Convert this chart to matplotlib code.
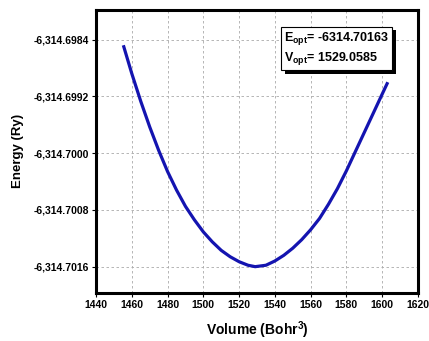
import matplotlib
matplotlib.use("Agg")
import matplotlib.pyplot as plt
import matplotlib.patheffects as pe
from matplotlib.ticker import FuncFormatter

plt.rcParams['font.family'] = ['Liberation Sans', 'DejaVu Sans']
plt.rcParams['mathtext.fontset'] = 'custom'
plt.rcParams['mathtext.rm'] = 'Liberation Sans'
plt.rcParams['mathtext.bf'] = 'Liberation Sans:bold'

# volume (Bohr^3) and energy (Ry)
volume = [1455.5, 1460, 1465, 1470, 1475, 1480, 1485, 1490, 1495, 1500,
          1505, 1510, 1515, 1520, 1525, 1529, 1535, 1540, 1545, 1550,
          1555, 1560, 1565, 1570, 1575, 1580, 1585, 1590, 1595, 1600, 1602.8]
energy = [-6314.69850, -6314.69888, -6314.69927, -6314.69963, -6314.69996,
          -6314.70026, -6314.70052, -6314.70075, -6314.70094, -6314.70111,
          -6314.70125, -6314.70137, -6314.70146, -6314.70153, -6314.70158,
          -6314.70160, -6314.70158, -6314.70152, -6314.70144, -6314.70134,
          -6314.70122, -6314.70108, -6314.70092, -6314.70072, -6314.70050,
          -6314.70025, -6314.69998, -6314.69971, -6314.69944, -6314.69917,
          -6314.69902]

xticks = [1440, 1460, 1480, 1500, 1520, 1540, 1560, 1580, 1600, 1620]
yticks = [-6314.6984, -6314.6992, -6314.7000, -6314.7008, -6314.7016]
e_opt = "-6314.70163"
v_opt = "1529.0585"

fig = plt.figure(figsize=(4.29, 3.41), dpi=100)
ax = fig.add_axes([0.224, 0.141, 0.750, 0.830])

ax.plot(volume, energy, color='#1414b0', lw=2.3, solid_joinstyle='round')

ax.set_xlim(1440, 1620)
ax.set_ylim(-6314.70197, -6314.69798)
ax.set_xticks(xticks)
ax.set_yticks(yticks)
ax.yaxis.set_major_formatter(FuncFormatter(lambda v, p: f"{v:,.4f}"))
ax.grid(True, ls=(0, (3, 3)), color='#aaaaaa', lw=0.6)
for s in ax.spines.values():
    s.set_linewidth(2.2)
ax.tick_params(direction='out', length=3, width=0.8, labelsize=7.5, pad=2)
for lab in ax.get_xticklabels() + ax.get_yticklabels():
    lab.set_fontweight('bold')

ax.set_xlabel(r"Volume (Bohr$^\mathbf{3}$)", fontsize=10, fontweight='bold', labelpad=7)
ax.set_ylabel("Energy (Ry)", fontsize=9.5, fontweight='bold', labelpad=7)

t = ax.text(0.585, 0.93,
            r"$\mathbf{E}_{\mathbf{opt}}$= " + e_opt + "\n" + r"$\mathbf{V}_{\mathbf{opt}}$= " + v_opt,
            transform=ax.transAxes, fontsize=9, fontweight='bold', va='top', ha='left',
            linespacing=1.3,
            bbox=dict(boxstyle='square,pad=0.25', fc='white', ec='black', lw=0.8))
t.get_bbox_patch().set_path_effects([
    pe.withSimplePatchShadow(offset=(2.5, -2.5), shadow_rgbFace='black', alpha=1.0)])

fig.savefig("out.png", dpi=100)
